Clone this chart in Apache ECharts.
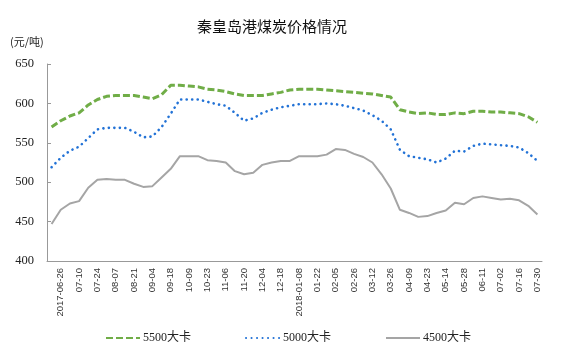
<!DOCTYPE html>
<html>
<head>
<meta charset="utf-8">
<script src="https://cdn.jsdelivr.net/npm/echarts@6/dist/echarts.min.js"></script>
<style>html,body{margin:0;padding:0;background:#fff;}#c{width:561px;height:357px;}</style>
</head>
<body>
<div id="c"></div>
<script>
const dates = ['2017-06-19','2017-06-26','2017-07-03','2017-07-10','2017-07-17','2017-07-24','2017-07-31','2017-08-07','2017-08-14','2017-08-21',
 '2017-08-28','2017-09-04','2017-09-11','2017-09-18','2017-09-25','2017-10-09','2017-10-16','2017-10-23','2017-10-30','2017-11-06',
 '2017-11-13','2017-11-20','2017-11-27','2017-12-04','2017-12-11','2017-12-18','2017-12-25','2018-01-08','2018-01-15','2018-01-22',
 '2018-01-29','2018-02-05','2018-02-12','2018-02-26','2018-03-05','2018-03-12','2018-03-19','2018-03-26','2018-04-02','2018-04-09',
 '2018-04-16','2018-04-23','2018-05-07','2018-05-14','2018-05-21','2018-05-28','2018-06-04','2018-06-11','2018-06-25','2018-07-02',
 '2018-07-09','2018-07-16','2018-07-23','2018-07-30'];
const seriesNames = ['5500大卡','5000大卡','4500大卡'];
const kcal5500 = [570,578,584,588,598,605,609,610,610,610,608,606,611,623,623,622,621,618,617,615,612,610,610,610,612,614,617,
 618,618,618,617,616,615,614,613,612,610,608,592,589,587,588,586,586,588,587,590,590,589,589,588,587,583,576];
const kcal5000 = [519,531,540,545,556,567,569,569,569,564,557,558,570,587,605,605,605,602,599,597,588,578,581,588,592,595,597,
 599,599,599,600,599,597,594,591,585,578,567,541,533,531,529,525,530,540,539,546,549,548,547,546,544,537,527];
const kcal4500 = [447,465,473,476,493,503,504,503,503,498,494,495,506,517,533,533,533,528,527,525,514,510,512,522,525,527,527,
 533,533,533,535,542,541,536,532,525,510,492,465,461,456,457,461,464,474,472,480,482,480,478,479,477,470,459];
const yMin = 400, yMax = 650, yStep = 50;

const serif = "'Liberation Serif','Noto Sans CJK SC',serif";
const chart = echarts.init(document.getElementById('c'), null, {renderer:'canvas'});
chart.setOption({
  animation: false,
  backgroundColor: '#fff',
  title: {
    text: '秦皇岛港煤炭价格情况',
    left: 192, top: 14,
    textStyle: {fontSize: 15, fontWeight: 'normal', color: '#111', fontFamily: "'Noto Sans CJK SC',sans-serif"}
  },
  graphic: [{
    type: 'text', left: 10, top: 36,
    style: {text: '(元/吨)', fill: '#222', font: "11px 'Noto Sans CJK SC', sans-serif"}
  }],
  grid: {left: 47, right: 19, top: 64, bottom: 96, containLabel: false},
  legend: {
    left: 100, top: 327,
    itemWidth: 34, itemHeight: 8, itemGap: 54,
    itemStyle: {opacity: 0},
    textStyle: {fontSize: 12, color: '#222', fontFamily: serif, padding: [0,0,0,-2]},
    data: seriesNames
  },
  xAxis: {
    type: 'category',
    data: dates,
    boundaryGap: true,
    axisLine: {lineStyle: {color: '#999', width: 1}},
    axisTick: {inside: true, length: 4, interval: function(i){return i % 2 === 0;}, lineStyle: {color: '#999'}},
    axisLabel: {
      rotate: 90, margin: 7, fontSize: 9.5, color: '#333',
      fontFamily: "'Liberation Sans',sans-serif",
      interval: function(i){return i % 2 === 1;},
      formatter: function(v, i){ return (i === 1 || i === 27) ? v : v.slice(5); }
    },
    splitLine: {show: false}
  },
  yAxis: {
    type: 'value', min: yMin, max: yMax, interval: yStep,
    axisLine: {show: true, lineStyle: {color: '#999', width: 1}},
    axisTick: {show: true, inside: true, length: 4, lineStyle: {color: '#999'}},
    axisLabel: {fontSize: 12.5, color: '#222', margin: 13, fontFamily: serif},
    splitLine: {show: false}
  },
  series: [
    {name: seriesNames[0], type: 'line', data: kcal5500, symbol: 'none',
     color: '#70AD47', lineStyle: {color: '#70AD47', width: 3, type: [7,3]}},
    {name: seriesNames[1], type: 'line', data: kcal5000, symbol: 'none',
     color: '#2272D6', lineStyle: {color: '#2272D6', width: 2.6, type: [0.1,5.4], cap: 'round'}},
    {name: seriesNames[2], type: 'line', data: kcal4500, symbol: 'none',
     color: '#A5A5A5', lineStyle: {color: '#A5A5A5', width: 2}}
  ]
});
</script>
</body>
</html>
